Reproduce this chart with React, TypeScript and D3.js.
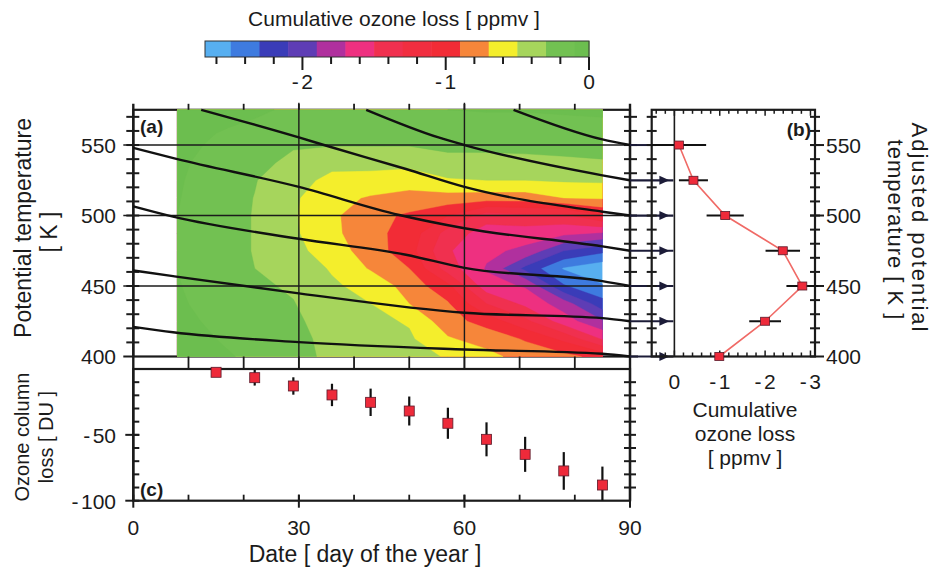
import React from 'react';
import * as d3 from 'd3';

// ---------- data ----------
// Panel (a): cumulative ozone loss [ppmv] on a day x theta grid
const DAYS = [8, 15, 22, 29, 36, 43, 50, 57, 64, 71, 78, 85];
const THETA = [400, 412.5, 425, 437.5, 450, 462.5, 475, 487.5, 500, 512.5, 525, 537.5, 550, 562.5, 575];
const LOSS_400 = [-0.05, -0.08, -0.12, -0.21, -0.36, -0.38, -0.42, -0.52, -0.64, -0.78, -0.84, -0.97];
const LOSS_412 = [-0.06, -0.1, -0.15, -0.22, -0.38, -0.42, -0.47, -0.68, -0.78, -0.92, -1.15, -1.52];
const LOSS_425 = [-0.07, -0.12, -0.18, -0.25, -0.42, -0.45, -0.52, -0.82, -0.98, -1.25, -1.6, -1.88];
const LOSS_437 = [-0.08, -0.15, -0.22, -0.29, -0.45, -0.5, -0.7, -0.88, -1.3, -1.55, -1.8, -2.22];
const LOSS_450 = [-0.09, -0.18, -0.26, -0.33, -0.47, -0.57, -0.78, -1.05, -1.62, -1.72, -2.28, -2.48];
const LOSS_462 = [-0.1, -0.2, -0.3, -0.38, -0.52, -0.72, -0.9, -1.4, -1.72, -2.15, -2.52, -2.65];
const LOSS_475 = [-0.1, -0.21, -0.31, -0.44, -0.6, -0.8, -1.02, -1.48, -1.65, -1.75, -2.1, -2.25];
const LOSS_487 = [-0.1, -0.21, -0.31, -0.47, -0.65, -0.84, -0.98, -1.38, -1.6, -1.6, -1.65, -1.72];
const LOSS_500 = [-0.1, -0.21, -0.31, -0.48, -0.66, -0.84, -0.93, -1.1, -1.4, -1.35, -1.35, -1.1];
const LOSS_512 = [-0.09, -0.2, -0.305, -0.47, -0.64, -0.72, -0.78, -0.78, -0.8, -0.8, -0.7, -0.68];
const LOSS_525 = [-0.08, -0.19, -0.29, -0.43, -0.55, -0.57, -0.6, -0.52, -0.5, -0.5, -0.48, -0.47];
const LOSS_537 = [-0.07, -0.16, -0.24, -0.35, -0.45, -0.44, -0.45, -0.37, -0.37, -0.36, -0.34, -0.32];
const LOSS_550 = [-0.06, -0.12, -0.18, -0.28, -0.29, -0.29, -0.29, -0.25, -0.25, -0.24, -0.23, -0.22];
const LOSS_562 = [-0.05, -0.09, -0.12, -0.2, -0.2, -0.2, -0.2, -0.18, -0.16, -0.16, -0.15, -0.14];
const LOSS_575 = [-0.04, -0.06, -0.08, -0.12, -0.12, -0.12, -0.12, -0.1, -0.09, -0.09, -0.08, -0.07];
const LOSS = [LOSS_400, LOSS_412, LOSS_425, LOSS_437, LOSS_450, LOSS_462, LOSS_475, LOSS_487,
  LOSS_500, LOSS_512, LOSS_525, LOSS_537, LOSS_550, LOSS_562, LOSS_575];

const LEVELS = [-2.5, -2.3, -2.1, -1.9, -1.7, -1.5, -1.3, -1.1, -0.9, -0.7, -0.5, -0.3, -0.1];
const COLORS = ['#57AFF0', '#3E7BDF', '#3A3CB8', '#5E3DB5', '#B0309E', '#EE3080', '#F0304F',
  '#F12E40', '#F22C36', '#F6863A', '#F4EE2C', '#A6D55C', '#72C152', '#6CBE4F'];
const CB_TICKS = [0, -0.2, -0.4, -0.6, -0.8, -1, -1.2, -1.4, -1.6, -1.8, -2, -2.2, -2.4, -2.6];
const CB_LABELS = [-2, -1, 0];

// descent trajectories [day, theta]
const LINE_A = [[12.3, 575], [30, 555.4], [35, 549.5], [49.4, 533], [60, 520.3], [85, 502.7], [90, 500]];
const LINE_B = [[42.2, 575], [55.3, 555.4], [60, 550], [85, 528.5], [90, 525]];
const LINE_C = [[68.9, 575], [85, 554], [90, 550]];
const LINE_D = [[0, 548], [7.8, 540.2], [30, 520.3], [48.2, 500.4], [60, 491], [85, 478.1], [90, 475]];
const LINE_E = [[0, 506.5], [7.2, 499.2], [30, 483.5], [49.4, 472.2], [60, 462.9], [85, 453.5], [90, 450]];
const LINE_F = [[0, 461], [7.2, 457], [30, 444.8], [60, 431], [85, 427.2], [90, 425]];
const LINE_G = [[0, 421], [7.2, 417.2], [30, 410.2], [60, 405], [85, 402], [90, 400]];
const LINES = [LINE_A, LINE_B, LINE_C, LINE_D, LINE_E, LINE_F, LINE_G];

// Panel (b)
const B_THETA = [550, 525, 500, 475, 450, 425, 400];
const B_LOSS = [-0.1, -0.42, -1.12, -2.39, -2.82, -2.0, -0.99];
const B_ERR = [0.6, 0.32, 0.41, 0.38, 0.35, 0.35, 0];
const ARROW_THETA = [525, 500, 475, 450, 425, 400];
const B_XLABELS = [0, -1, -2, -3];

// Panel (c)
const C_DAYS = [15, 22, 29, 36, 43, 50, 57, 64, 71, 78, 85];
const C_LOSS = [-2.5, -6.6, -12.9, -19.7, -25.3, -31.9, -41.2, -53.4, -64.8, -77.4, -88.1];
const C_ERR = [3, 6, 6.6, 8.5, 10.4, 11, 11.8, 12.9, 13.3, 14.3, 14];

const Y_LABELS_A = [400, 450, 500, 550];
const X_LABELS = [0, 30, 60, 90];
const Y_LABELS_C = [-50, -100];

const FONT = '"Liberation Sans", Arial, Helvetica, sans-serif';
const INK = '#1b1b1b';

function num(v: number) {
  if (v < 0) {
    return (
      <>
        <tspan>-</tspan>
        <tspan dx={2.5}>{String(-v)}</tspan>
      </>
    );
  }
  return String(v);
}

export default function App() {
  const W = 938, H = 574;
  const xDay = d3.scaleLinear().domain([0, 90]).range([133.3, 630]);
  const yTh = d3.scaleLinear().domain([400, 575]).range([356.5, 109.8]);
  const yC = d3.scaleLinear().domain([-100, 0]).range([500.7, 369]);
  const xB = d3.scaleLinear().domain([0.5, -3.1]).range([651.7, 815]);
  const xCB = d3.scaleLinear().domain([-2.68, 0]).range([205, 589]);

  const nx = DAYS.length, ny = THETA.length;
  const values = LOSS.flat();
  const gx = d3.scaleLinear().domain([0.5, nx - 0.5]).range([DAYS[0], DAYS[nx - 1]]).clamp(true);
  const gy = d3.scaleLinear().domain([0.5, ny - 0.5]).range([THETA[0], THETA[ny - 1]]).clamp(true);
  const contours = d3.contours().size([nx, ny]).thresholds(LEVELS)(values);
  const proj = d3.geoTransform({
    point: function (x: number, y: number) {
      (this as any).stream.point(xDay(gx(x)), yTh(gy(y)));
    },
  });
  const cpath = d3.geoPath(proj);
  const line = d3.line<number[]>().x(d => xDay(d[0])).y(d => yTh(d[1])).curve(d3.curveMonotoneX);
  const lineB = d3.line<number[]>().x(d => xB(d[0])).y(d => yTh(d[1]));

  const aL = xDay(0), aR = xDay(90), aT = yTh(575), aB = yTh(400);
  const cT = yC(0), cB = yC(-100);
  const bL = xB(0.5), bR = xB(-3.1);

  const thetaMinor = d3.range(410, 575, 10);
  const dayMinor = d3.range(10, 90, 10);
  const cMinor = d3.range(-90, 0, 10);
  const bMinor = d3.range(0.4, -3.01, -0.2).map(v => Math.round(v * 10) / 10);

  const edges = [-2.68, ...LEVELS, 0];
  const bPts = B_THETA.map((t, i) => [B_LOSS[i], t]);

  const txt = { fontFamily: FONT, fill: INK } as any;

  return (
    <svg width={W} height={H} style={{ position: 'absolute', left: 0, top: 0, background: '#fff' }}>
      <rect x={0} y={0} width={W} height={H} fill="#fff" />

      {/* ---------- colour bar ---------- */}
      <text x={394} y={26} textAnchor="middle" fontSize={21} {...txt}>Cumulative ozone loss [ ppmv ]</text>
      {COLORS.map((c, i) => (
        <rect key={'cb' + i} x={xCB(edges[i])} y={41} width={xCB(edges[i + 1]) - xCB(edges[i]) + 0.5} height={16} fill={c} />
      ))}
      <rect x={xCB(-2.68)} y={41} width={xCB(0) - xCB(-2.68)} height={16} fill="none" stroke="#333" strokeWidth={1} />
      {CB_TICKS.map(v => {
        const major = CB_LABELS.includes(v);
        return <line key={'cbt' + v} x1={xCB(v)} x2={xCB(v)} y1={57} y2={major ? 70 : 64} stroke={INK} strokeWidth={2} />;
      })}
      {CB_LABELS.map(v => (
        <text key={'cbl' + v} x={xCB(v)} y={89} textAnchor="middle" fontSize={21} {...txt}>{num(v)}</text>
      ))}

      {/* ---------- panel (a) ---------- */}
      <rect x={aL} y={aT} width={aR - aL} height={aB - aT} fill="none" stroke={INK} strokeWidth={2.2} />
      <rect x={xDay(DAYS[0])} y={aT} width={xDay(DAYS[nx - 1]) - xDay(DAYS[0])} height={aB - aT} fill={COLORS[0]} />
      {contours.map((c, i) => (
        <path key={'ct' + i} d={cpath(c as any) || ''} fill={COLORS[i + 1]} stroke={COLORS[i + 1]} strokeWidth={0.4} />
      ))}
      {/* grid lines */}
      {[450, 500, 550].map(t => (
        <line key={'gh' + t} x1={aL - 10} x2={aR + 2} y1={yTh(t)} y2={yTh(t)} stroke={INK} strokeWidth={1.6} />
      ))}
      {[30, 60].map(d => (
        <line key={'gv' + d} x1={xDay(d)} x2={xDay(d)} y1={aT - 7} y2={cT} stroke={INK} strokeWidth={1.4} />
      ))}
      {/* left / right ticks */}
      {thetaMinor.map(t => (
        <g key={'ta' + t}>
          <line x1={aL - 7} x2={aL + 6} y1={yTh(t)} y2={yTh(t)} stroke={INK} strokeWidth={2} />
          <line x1={aR - 6} x2={aR + 7} y1={yTh(t)} y2={yTh(t)} stroke={INK} strokeWidth={2} />
        </g>
      ))}
      <line x1={aL - 10} x2={aL} y1={aB} y2={aB} stroke={INK} strokeWidth={2} />
      <line x1={aR} x2={aR + 8} y1={aB} y2={aB} stroke={INK} strokeWidth={2} />
      {/* top / bottom ticks */}
      {dayMinor.map(d => (
        <g key={'da' + d}>
          <line x1={xDay(d)} x2={xDay(d)} y1={aT - 6} y2={aT} stroke={INK} strokeWidth={1.8} />
          <line x1={xDay(d)} x2={xDay(d)} y1={aB} y2={cT} stroke={INK} strokeWidth={1.8} />
        </g>
      ))}
      <line x1={aL} x2={aL} y1={aT - 6} y2={cB} stroke={INK} strokeWidth={2.4} />
      <line x1={aR} x2={aR} y1={aT - 6} y2={cB} stroke={INK} strokeWidth={2.4} />
      {/* trajectories */}
      {LINES.map((l, i) => (
        <path key={'ln' + i} d={line(l as any) || ''} fill="none" stroke="#111" strokeWidth={2.4} />
      ))}
      <text x={140} y={133} fontSize={19} fontWeight="bold" {...txt}>(a)</text>
      {Y_LABELS_A.map(t => (
        <text key={'yl' + t} x={116} y={yTh(t)} textAnchor="end" dominantBaseline="central" fontSize={21} {...txt}>{t}</text>
      ))}
      <text transform="translate(23,228) rotate(-90)" textAnchor="middle" dominantBaseline="central" fontSize={23} {...txt}>Potential temperature</text>
      <text transform="translate(49,232) rotate(-90)" textAnchor="middle" dominantBaseline="central" fontSize={23} {...txt}>[ K ]</text>

      {/* ---------- arrows between (a) and (b) ---------- */}
      <line x1={aR} x2={bL} y1={yTh(550)} y2={yTh(550)} stroke="#1c1c38" strokeWidth={2} />
      {ARROW_THETA.map(t => {
        const y = yTh(t);
        return (
          <g key={'ar' + t}>
            <line x1={aR} x2={xB(0) - 1} y1={y} y2={y} stroke="#1c1c38" strokeWidth={2.2} />
            <path d={`M${xB(0) - 15},${y - 4.5} L${xB(0) - 5},${y} L${xB(0) - 15},${y + 4.5} Z`} fill="#1c1c38" />
          </g>
        );
      })}

      {/* ---------- panel (b) ---------- */}
      <rect x={bL} y={aT} width={bR - bL} height={aB - aT} fill="none" stroke={INK} strokeWidth={2.2} />
      <line x1={xB(0)} x2={xB(0)} y1={aT} y2={aB} stroke={INK} strokeWidth={1.6} />
      {thetaMinor.map(t => (
        <g key={'tb' + t}>
          <line x1={bL - 5} x2={bL + 5} y1={yTh(t)} y2={yTh(t)} stroke={INK} strokeWidth={2} />
          <line x1={bR - 5} x2={bR + 5} y1={yTh(t)} y2={yTh(t)} stroke={INK} strokeWidth={2} />
        </g>
      ))}
      {Y_LABELS_A.map(t => (
        <line key={'tbm' + t} x1={bR - 5} x2={bR + 9} y1={yTh(t)} y2={yTh(t)} stroke={INK} strokeWidth={2} />
      ))}
      {bMinor.map(v => {
        const major = Number.isInteger(v);
        return (
          <g key={'bx' + v}>
            <line x1={xB(v)} x2={xB(v)} y1={aT} y2={aT + (major ? 6 : 4)} stroke={INK} strokeWidth={1.5} />
            <line x1={xB(v)} x2={xB(v)} y1={aB} y2={aB - (major ? 6 : 4)} stroke={INK} strokeWidth={1.5} />
          </g>
        );
      })}
      <path d={lineB(bPts) || ''} fill="none" stroke="#F06A66" strokeWidth={1.6} />
      {B_THETA.map((t, i) => B_ERR[i] > 0 ? (
        <line key={'be' + t} x1={xB(B_LOSS[i] + B_ERR[i])} x2={xB(B_LOSS[i] - B_ERR[i])} y1={yTh(t)} y2={yTh(t)} stroke="#111" strokeWidth={2} />
      ) : null)}
      {B_THETA.map((t, i) => (
        <rect key={'bp' + t} x={xB(B_LOSS[i]) - 4.5} y={yTh(t) - 4} width={9} height={8} fill="#EE2A3A" stroke="#5a1a2a" strokeWidth={0.8} />
      ))}
      <text x={811} y={136} textAnchor="end" fontSize={19} fontWeight="bold" {...txt}>(b)</text>
      {Y_LABELS_A.map(t => (
        <text key={'yr' + t} x={826} y={yTh(t)} dominantBaseline="central" fontSize={21} {...txt}>{t}</text>
      ))}
      {B_XLABELS.map(v => (
        <text key={'bxl' + v} x={xB(v)} y={389} textAnchor="middle" fontSize={21} {...txt}>{num(v)}</text>
      ))}
      <text x={745} y={417} textAnchor="middle" fontSize={21} {...txt}>Cumulative</text>
      <text x={745} y={441} textAnchor="middle" fontSize={21} {...txt}>ozone loss</text>
      <text x={745} y={465} textAnchor="middle" fontSize={21} {...txt}>[ ppmv ]</text>
      <text transform="translate(919,228) rotate(90)" textAnchor="middle" dominantBaseline="central" fontSize={22} letterSpacing={2} {...txt}>Adjusted potential</text>
      <text transform="translate(895,230) rotate(90)" textAnchor="middle" dominantBaseline="central" fontSize={22} letterSpacing={1} {...txt}>temperature [ K ]</text>

      {/* ---------- panel (c) ---------- */}
      <rect x={aL} y={cT} width={aR - aL} height={cB - cT} fill="none" stroke={INK} strokeWidth={2.2} />
      {cMinor.map(v => (
        <g key={'cy' + v}>
          <line x1={aL} x2={aL + 6} y1={yC(v)} y2={yC(v)} stroke={INK} strokeWidth={2} />
          <line x1={aR - 6} x2={aR + 6} y1={yC(v)} y2={yC(v)} stroke={INK} strokeWidth={2} />
        </g>
      ))}
      {[-50, -100].map(v => (
        <line key={'cym' + v} x1={aL - 8} x2={aL + 6} y1={yC(v)} y2={yC(v)} stroke={INK} strokeWidth={2} />
      ))}
      {dayMinor.map(d => (
        <line key={'cx' + d} x1={xDay(d)} x2={xDay(d)} y1={cB} y2={cB - 6} stroke={INK} strokeWidth={1.8} />
      ))}
      {X_LABELS.map(d => (
        <line key={'cxm' + d} x1={xDay(d)} x2={xDay(d)} y1={cB - 6} y2={cB + 7} stroke={INK} strokeWidth={2} />
      ))}
      {C_DAYS.map((d, i) => (
        <line key={'ce' + d} x1={xDay(d)} x2={xDay(d)} y1={yC(Math.min(0, C_LOSS[i] + C_ERR[i]))} y2={yC(Math.max(-100, C_LOSS[i] - C_ERR[i]))} stroke="#111" strokeWidth={2.2} />
      ))}
      {C_DAYS.map((d, i) => (
        <rect key={'cp' + d} x={xDay(d) - 5} y={yC(C_LOSS[i]) - 5} width={10} height={10} fill="#EE2A3A" stroke="#5a1a2a" strokeWidth={0.8} />
      ))}
      <text x={140} y={496} fontSize={19} fontWeight="bold" {...txt}>(c)</text>
      {Y_LABELS_C.map(v => (
        <text key={'cyl' + v} x={116} y={yC(v)} textAnchor="end" dominantBaseline="central" fontSize={21} {...txt}>{num(v)}</text>
      ))}
      {X_LABELS.map(d => (
        <text key={'cxl' + d} x={xDay(d)} y={535} textAnchor="middle" fontSize={21} {...txt}>{d}</text>
      ))}
      <text x={365} y={562} textAnchor="middle" fontSize={23} {...txt}>Date [ day of the year ]</text>
      <text transform="translate(22,437) rotate(-90)" textAnchor="middle" dominantBaseline="central" fontSize={20} {...txt}>Ozone column</text>
      <text transform="translate(46,437) rotate(-90)" textAnchor="middle" dominantBaseline="central" fontSize={20} {...txt}>loss [ DU ]</text>
    </svg>
  );
}
